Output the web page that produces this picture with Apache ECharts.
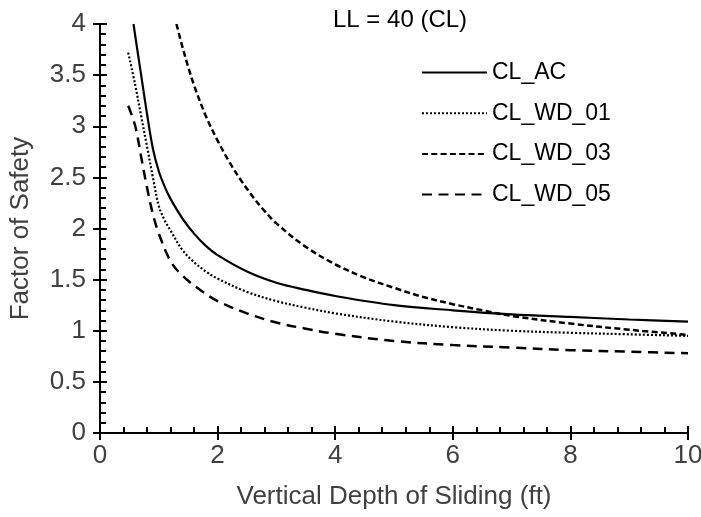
<!DOCTYPE html>
<html>
<head>
<meta charset="utf-8">
<script src="https://cdn.jsdelivr.net/npm/echarts@6/dist/echarts.min.js"></script>
<style>
  html, body { margin: 0; padding: 0; background: #fff; }
  #chart { width: 701px; height: 517px; }
</style>
</head>
<body>
<div id="chart"></div>
<script>
// Factor of safety vs. vertical depth of sliding, LL = 40 (CL)
const titleText = 'LL = 40 (CL)';
const xName = 'Vertical Depth of Sliding (ft)';
const yName = 'Factor of Safety';
const seriesNames = ['CL_AC', 'CL_WD_01', 'CL_WD_03', 'CL_WD_05'];

const depthAC = [0.57, 0.6, 0.7, 0.8, 0.9, 1.0, 1.1, 1.2, 1.4, 1.6, 1.8, 2, 2.5, 3, 3.5, 4, 5, 6, 7, 8, 9, 10];
const fsAC    = [4.0, 3.88, 3.5, 3.12, 2.78, 2.56, 2.41, 2.29, 2.1, 1.95, 1.83, 1.74, 1.58, 1.47, 1.4, 1.34, 1.25, 1.2, 1.16, 1.135, 1.11, 1.09];

const depthWD01 = [0.48, 0.6, 0.7, 0.8, 0.9, 1.0, 1.1, 1.2, 1.4, 1.6, 1.8, 2, 2.5, 3, 3.5, 4, 5, 6, 7, 8, 9, 10];
const fsWD01    = [3.72, 3.4, 3.1, 2.8, 2.5, 2.22, 2.08, 1.98, 1.79, 1.67, 1.58, 1.51, 1.38, 1.29, 1.225, 1.17, 1.09, 1.035, 1.0, 0.98, 0.965, 0.95];

const depthWD03 = [1.3, 1.4, 1.5, 1.6, 1.8, 2.0, 2.2, 2.4, 2.6, 2.8, 3, 3.5, 4, 4.5, 5, 5.5, 6, 6.5, 7, 8, 9, 10];
const fsWD03    = [4.0, 3.78, 3.58, 3.4, 3.1, 2.86, 2.65, 2.47, 2.31, 2.17, 2.05, 1.82, 1.65, 1.52, 1.42, 1.33, 1.26, 1.2, 1.145, 1.07, 1.01, 0.96];

const depthWD05 = [0.48, 0.6, 0.7, 0.8, 0.9, 1.0, 1.2, 1.4, 1.7, 2, 2.5, 3, 3.5, 4, 5, 6, 7, 8, 9, 10];
const fsWD05    = [3.2, 3.0, 2.7, 2.4, 2.14, 1.95, 1.68, 1.54, 1.4, 1.29, 1.17, 1.08, 1.02, 0.97, 0.9, 0.86, 0.835, 0.81, 0.795, 0.78];

const zip = (xs, ys) => xs.map((x, i) => [x, ys[i]]);

const textColor = '#404040';
const fontFamily = 'Liberation Sans, Arial, sans-serif';

const lineStyles = [
  { type: 'solid', width: 2.2 },
  { type: [2, 2], width: 2.2 },
  { type: [6, 3.3], width: 2.5 },
  { type: [10, 6.5], width: 2.5 }
];
const seriesData = [
  zip(depthAC, fsAC),
  zip(depthWD01, fsWD01),
  zip(depthWD03, fsWD03),
  zip(depthWD05, fsWD05)
];

const chart = echarts.init(document.getElementById('chart'), null, { renderer: 'canvas' });

const tickStyle = { color: '#000', width: 2 };
const xBase = { type: 'value', min: 0, max: 10, interval: 2, position: 'bottom',
  axisLine: { onZero: false, lineStyle: { color: '#000', width: 2 } },
  splitLine: { show: false } };
const yBase = { type: 'value', min: 0, max: 4, interval: 0.5, position: 'left',
  axisLine: { onZero: false, lineStyle: { color: '#000', width: 2 } },
  splitLine: { show: false } };

chart.setOption({
  animation: false,
  backgroundColor: '#fff',
  title: {
    text: titleText, left: 328, top: 3,
    textStyle: { fontSize: 24, fontWeight: 'normal', color: '#000', fontFamily }
  },
  legend: {
    orient: 'vertical', left: 416, top: 56,
    itemWidth: 65, itemHeight: 22, itemGap: 17.7,
    data: seriesNames,
    itemStyle: { opacity: 0 },
    textStyle: { fontSize: 23, color: '#000', fontFamily, padding: [0, 0, 0, 0] }
  },
  grid: { left: 100, right: 13, top: 24, bottom: 84, containLabel: false, outerBoundsMode: 'none' },
  xAxis: [
    Object.assign({}, xBase, {
      name: xName, nameLocation: 'middle', nameGap: 51,
      nameTextStyle: { fontSize: 26, color: textColor, fontFamily },
      axisLabel: { fontSize: 26, color: textColor, fontFamily, margin: 10 },
      axisTick: { show: true, inside: false, length: 7, lineStyle: tickStyle },
      minorTick: { show: false }
    }),
    Object.assign({}, xBase, {
      axisLabel: { show: false },
      axisTick: { show: true, inside: true, length: 7, lineStyle: tickStyle },
      minorTick: { show: true, splitNumber: 5, length: 6, lineStyle: tickStyle }
    })
  ],
  yAxis: [
    Object.assign({}, yBase, {
      name: yName, nameLocation: 'middle', nameGap: 66, nameRotate: 90,
      nameTextStyle: { fontSize: 26, color: textColor, fontFamily },
      axisLabel: { fontSize: 26, color: textColor, fontFamily, margin: 14 },
      axisTick: { show: true, inside: false, length: 7, lineStyle: tickStyle },
      minorTick: { show: false }
    }),
    Object.assign({}, yBase, {
      axisLabel: { show: false },
      axisTick: { show: true, inside: true, length: 7, lineStyle: tickStyle },
      minorTick: { show: true, splitNumber: 5, length: 6, lineStyle: tickStyle }
    })
  ],
  series: seriesNames.map((name, i) => ({
    name, type: 'line', data: seriesData[i],
    xAxisIndex: 0, yAxisIndex: 0,
    showSymbol: false, symbol: 'none', smooth: 0.35,
    color: '#000',
    lineStyle: Object.assign({ color: '#000' }, lineStyles[i])
  }))
});
</script>
</body>
</html>
